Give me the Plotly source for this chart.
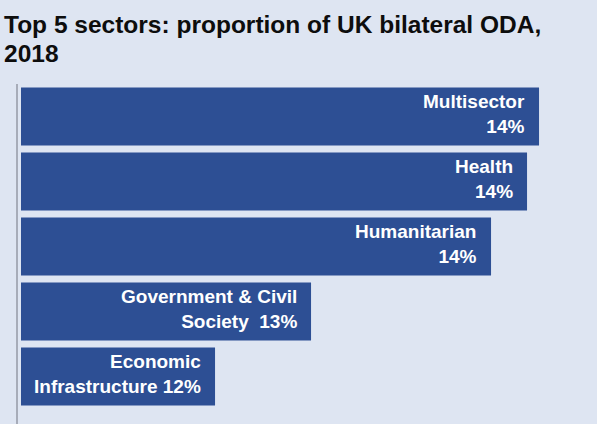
import plotly.graph_objects as go

sectors = ["Multisector", "Health", "Humanitarian", "Government & Civil Society", "Economic Infrastructure"]
share = [14.4, 14.3, 14.0, 12.5, 11.7]
labels = [
    "Multisector<br>14%",
    "Health<br>14%",
    "Humanitarian<br>14%",
    "Government & Civil<br>Society  13%",
    "Economic<br>Infrastructure 12%",
]
title_lines = ["Top 5 sectors: proportion of UK bilateral ODA,", "2018"]

BG = "#dee5f2"
BAR = "#2d4f94"
FONT = "Liberation Sans, Arial"

fig = go.Figure(
    go.Bar(
        y=sectors,
        x=share,
        orientation="h",
        marker=dict(color=BAR, line=dict(width=0)),
        width=0.89,
        hoverinfo="skip",
    )
)

# value labels, right aligned inside each bar
for s, v, lab in zip(sectors, share, labels):
    fig.add_annotation(
        x=v,
        y=s,
        text=lab,
        showarrow=False,
        xanchor="right",
        align="right",
        xshift=-12,
        yshift=3,
        font=dict(family=FONT, size=19, color="white", weight="bold"),
    )

# title, one annotation per line to get the tighter line spacing
for i, line in enumerate(title_lines):
    fig.add_annotation(
        xref="paper",
        yref="paper",
        x=2 / 597,
        y=1 + (84 - 9 - 29 * i) / 340,
        xanchor="left",
        yanchor="top",
        align="left",
        showarrow=False,
        text=line,
        font=dict(family=FONT, size=24.5, color="#0d0d0d", weight="bold"),
    )

fig.update_layout(
    width=597,
    height=424,
    paper_bgcolor=BG,
    plot_bgcolor=BG,
    margin=dict(l=0, r=0, t=84, b=0),
    showlegend=False,
    xaxis=dict(
        domain=[21 / 597, 1],
        range=[10.083, 14.883],
        showgrid=False,
        zeroline=False,
        showticklabels=False,
        ticks="",
    ),
    yaxis=dict(
        categoryorder="array",
        categoryarray=sectors,
        range=[4.73, -0.5],
        showgrid=False,
        zeroline=False,
        showticklabels=False,
        ticks="",
        showline=True,
        linecolor="#a7acb9",
        linewidth=2,
        anchor="free",
        position=17 / 597,
    ),
)

fig.write_html(
    "out.html",
    config={"displayModeBar": False},
    post_script="document.body.style.margin='0';",
)
